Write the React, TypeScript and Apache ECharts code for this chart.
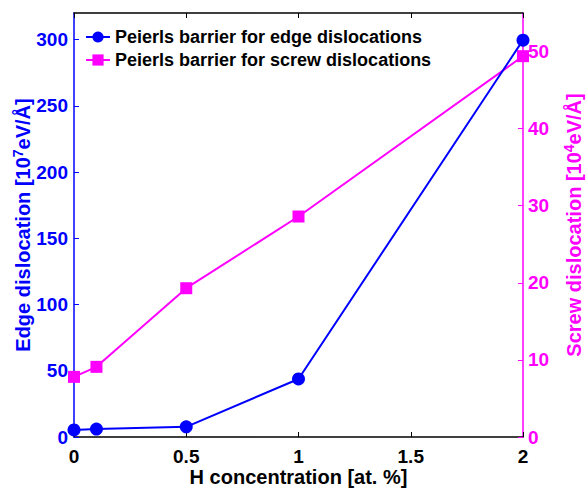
import React, { useEffect, useRef } from "react";
import * as echarts from "echarts";

const concentrations = [0, 0.1, 0.5, 1, 2];
const edgeBarrier = [5.3, 6, 7.7, 43.8, 299.5];
const screwBarrier = [7.8, 9.1, 19.3, 28.6, 49.4];
const xTicks = [0, 0.5, 1, 1.5, 2];

const BLUE = "#0000ff";
const MAGENTA = "#ff00ff";
const FONT = "Liberation Sans, Arial, sans-serif";

export default function App() {
  const ref = useRef<HTMLDivElement>(null);
  useEffect(() => {
    if (!ref.current) return;
    const chart = echarts.init(ref.current, null, { renderer: "svg" });
    const edgeData = concentrations.map((c, i) => [c, edgeBarrier[i]]);
    const screwData = concentrations.map((c, i) => [c, screwBarrier[i]]);
    chart.setOption({
      animation: false,
      backgroundColor: "#ffffff",
      textStyle: { fontFamily: FONT },
      grid: { left: 74, right: 64, top: 13, bottom: 53, containLabel: false, outerBoundsMode: "none" },
      legend: {
        orient: "vertical",
        left: 80,
        top: 23,
        itemGap: 5,
        itemWidth: 24,
        itemHeight: 14,
        textStyle: { fontSize: 18, fontWeight: "bold", color: "#000", fontFamily: FONT },
        data: [
          { name: "Peierls barrier for edge dislocations" },
          { name: "Peierls barrier for screw dislocations" },
        ],
      },
      xAxis: [
        {
          type: "value",
          min: 0,
          max: 2,
          interval: 0.5,
          position: "bottom",
          name: "H concentration [at. %]",
          nameLocation: "middle",
          nameGap: 30,
          nameMoveOverlap: false,
          nameTextStyle: { fontSize: 20, fontWeight: "bold", color: "#000", fontFamily: FONT },
          axisLine: { onZero: false, lineStyle: { color: "#000", width: 1.5 } },
          axisTick: { inside: true, length: 5, lineStyle: { color: "#000" } },
          axisLabel: {
            fontSize: 19,
            fontWeight: "bold",
            color: "#000",
            margin: 10,
            fontFamily: FONT,
            formatter: (v: number) => (xTicks.includes(v) ? String(v) : ""),
          },
          splitLine: { show: false },
        },
        {
          type: "value",
          min: 0,
          max: 2,
          interval: 0.5,
          position: "top",
          axisLine: { show: true, onZero: false, lineStyle: { color: "#000", width: 1.5 } },
          axisTick: { inside: true, length: 5, lineStyle: { color: "#000" } },
          axisLabel: { show: false },
          splitLine: { show: false },
        },
      ],
      yAxis: [
        {
          type: "value",
          min: 0,
          max: 320,
          interval: 50,
          position: "left",
          name: "Edge dislocation [10{sup|7}eV/Å]",
          nameLocation: "middle",
          nameGap: 40,
          nameMoveOverlap: false,
          nameTextStyle: {
            fontSize: 20,
            fontWeight: "bold",
            color: BLUE,
            fontFamily: FONT,
            rich: {
              sup: { fontSize: 14, fontWeight: "bold", color: BLUE, verticalAlign: "top", padding: [0, 0, 9, 0], fontFamily: FONT },
            },
          },
          axisLine: { show: true, onZero: false, lineStyle: { color: BLUE, width: 1.5 } },
          axisTick: { inside: true, length: 5, lineStyle: { color: BLUE } },
          axisLabel: { fontSize: 19, fontWeight: "bold", color: BLUE, margin: 6, showMaxLabel: false, fontFamily: FONT },
          splitLine: { show: false },
        },
        {
          type: "value",
          min: 0,
          max: 55,
          interval: 10,
          position: "right",
          name: "Screw dislocation [10{sup|4}eV/Å]",
          nameLocation: "middle",
          nameGap: 39,
          nameMoveOverlap: false,
          nameRotate: 90,
          nameTextStyle: {
            fontSize: 20,
            fontWeight: "bold",
            color: MAGENTA,
            fontFamily: FONT,
            rich: {
              sup: { fontSize: 14, fontWeight: "bold", color: MAGENTA, verticalAlign: "top", padding: [0, 0, 9, 0], fontFamily: FONT },
            },
          },
          axisLine: { show: true, onZero: false, lineStyle: { color: MAGENTA, width: 1.5 } },
          axisTick: { inside: true, length: 5, lineStyle: { color: MAGENTA } },
          axisLabel: { fontSize: 19, fontWeight: "bold", color: MAGENTA, margin: 5, showMaxLabel: false, fontFamily: FONT },
          splitLine: { show: false },
        },
      ],
      series: [
        {
          name: "Peierls barrier for edge dislocations",
          type: "line",
          xAxisIndex: 0,
          yAxisIndex: 0,
          data: edgeData,
          symbol: "circle",
          symbolSize: 13,
          lineStyle: { color: BLUE, width: 2 },
          itemStyle: { color: BLUE },
          z: 3,
        },
        {
          name: "Peierls barrier for screw dislocations",
          type: "line",
          xAxisIndex: 0,
          yAxisIndex: 1,
          data: screwData,
          symbol: "rect",
          symbolSize: 12,
          lineStyle: { color: MAGENTA, width: 2 },
          itemStyle: { color: MAGENTA },
          z: 2,
        },
      ],
    });
    return () => chart.dispose();
  }, []);
  return (
    <div
      ref={ref}
      style={{ position: "fixed", left: 0, top: 0, width: 587, height: 490 }}
    />
  );
}
